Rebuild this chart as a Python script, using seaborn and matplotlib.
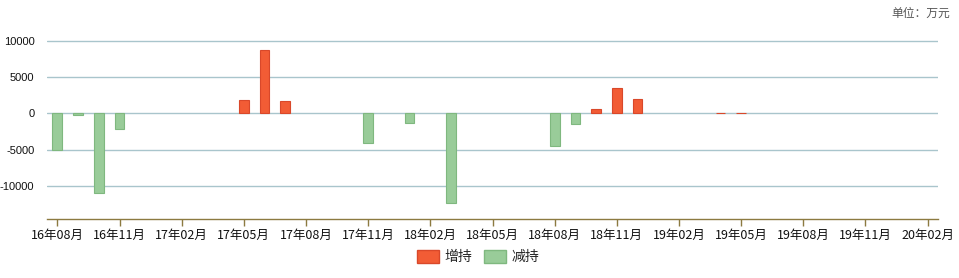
import matplotlib
matplotlib.use("Agg")
import matplotlib.pyplot as plt
import seaborn as sns
import pandas as pd
from matplotlib.patches import Patch

# ---- data ----
buy_months = ["17年05月", "17年06月", "17年07月", "18年10月", "18年11月", "18年12月", "19年04月", "19年05月"]
buy_values = [1800, 8800, 1700, 600, 3500, 2000, 80, 60]
sell_months = ["16年08月", "16年09月", "16年10月", "16年11月", "17年11月", "18年01月", "18年03月", "18年08月", "18年09月"]
sell_values = [-5000, -200, -11000, -2100, -4050, -1300, -12400, -4470, -1430]
tick_labels = ["16年08月", "16年11月", "17年02月", "17年05月", "17年08月", "17年11月", "18年02月",
               "18年05月", "18年08月", "18年11月", "19年02月", "19年05月", "19年08月", "19年11月", "20年02月"]
series_names = ["增持", "减持"]

all_months = [f"{p.year % 100:02d}年{p.month:02d}月" for p in pd.period_range("2016-08", "2020-02", freq="M")]

df = pd.DataFrame({
    "month": buy_months + sell_months,
    "value": buy_values + sell_values,
    "type": [series_names[0]] * len(buy_months) + [series_names[1]] * len(sell_months),
})

sns.set_theme(style="white")
plt.rcParams["font.family"] = ["Noto Sans CJK SC", "DejaVu Sans"]

red = "#F25C35"
green = "#99CC99"
fig = plt.figure(figsize=(9.59, 2.78), dpi=100)
ax = fig.add_axes([47 / 959, 1 - 219.3 / 278, (938 - 47) / 959, (219.3 - 33.55) / 278])

sns.barplot(data=df, x="month", y="value", hue="type", order=all_months,
            hue_order=series_names, palette=[red, green], dodge=False,
            width=0.47, ax=ax, legend=False, saturation=1)
for p in ax.patches:
    fc = p.get_facecolor()
    if fc[1] < 0.5:
        p.set_edgecolor("#D9482A")
    else:
        p.set_edgecolor("#7FB87F")
    p.set_linewidth(0.8)

ax.set_xlim(-0.5, 42.5)
ax.set_ylim(-14620, 11000)
ax.set_yticks([-10000, -5000, 0, 5000, 10000])
ax.set_yticklabels(["-10000", "-5000", "0", "5000", "10000"], family="Liberation Sans", fontsize=8)
ax.yaxis.grid(True, color="#A9C5CC", linewidth=1)
ax.set_axisbelow(True)
ax.set_xticks(range(0, 43, 3))
ax.set_xticklabels(tick_labels)
ax.set_xlabel("")
ax.set_ylabel("")
for s in ["top", "right", "left"]:
    ax.spines[s].set_visible(False)
ax.spines["bottom"].set_color("#8C7A40")
ax.spines["bottom"].set_linewidth(1)
ax.tick_params(axis="x", bottom=True, length=5, width=1, color="#8C7A40", labelsize=9, pad=2, labelcolor="#111111")
ax.tick_params(axis="y", left=False, pad=3, labelcolor="#111111")

handles = [Patch(facecolor=red, edgecolor="#D9482A"), Patch(facecolor=green, edgecolor="#7FB87F")]
fig.legend(handles, series_names, loc="center", bbox_to_anchor=(478 / 959, 1 - 257 / 278), ncol=2,
           frameon=False, fontsize=10, handlelength=1.6, handleheight=1.1, columnspacing=0.8, handletextpad=0.4)

fig.text(950 / 959, 1 - 13 / 278, "单位：万元", ha="right", va="center", fontsize=8.5, color="#555555")

fig.savefig("out.png", dpi=100)
